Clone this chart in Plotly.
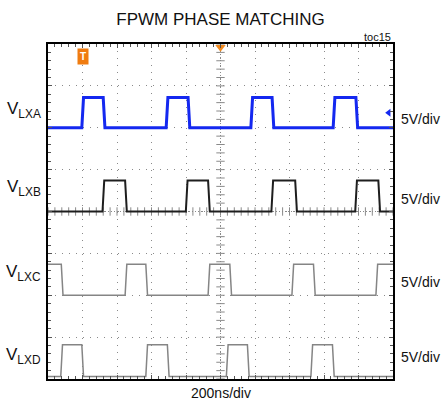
import plotly.graph_objects as go

# ---- data (time in ns, 200 ns/div; amplitude in V, 5 V/div, channels stacked) ----
channels = ["LXA", "LXB", "LXC", "LXD"]
offsets = [30.0, 20.0, 10.0, 0.3]          # channel ground levels (V on the stacked screen)
amplitudes = [3.6, 3.7, 3.7, 3.8]          # pulse height (V)
start_high = [0, 0, 1, 0]
rises = [
    [201, 690, 1181, 1658],
    [321, 804, 1300, 1786],
    [452, 933, 1419, 1906],
    [79, 572, 1039, 1529],
]
falls = [
    [325, 817, 1304, 1790],
    [452, 933, 1438, 1920],
    [82, 572, 1059, 1544],
    [201, 697, 1161, 1654],
]
scale_labels = ["5V/div", "5V/div", "5V/div", "5V/div"]
scale_label_y = [31.1, 21.5, 11.6, 2.6]
name_label_y = [32.1, 22.8, 12.6, 2.7]
t_span = [0, 2000]
v_span = [0, 40]
trigger_time = 203

colors = ["#1428f0", "#1e1e1e", "#858585", "#858585"]
widths = [3.0, 2.0, 1.5, 1.5]


def build_wave(off, amp, r, f, s0, tr=10):
    edges = sorted([(t, 1) for t in r] + [(t, 0) for t in f])
    state = s0
    xs = [t_span[0]]
    ys = [off + amp * state]
    for t, s in edges:
        xs += [t - tr / 2, t + tr / 2]
        ys += [off + amp * state, off + amp * s]
        state = s
    xs.append(t_span[1])
    ys.append(off + amp * state)
    return xs, ys


fig = go.Figure()

# centre crosshair tick marks
ctr_t = (t_span[0] + t_span[1]) / 2
ctr_v = (v_span[0] + v_span[1]) / 2
fig.add_trace(go.Scatter(
    x=[ctr_t] * 41, y=list(range(0, 41)), mode="markers", hoverinfo="skip",
    marker=dict(symbol="line-ew", size=6, line=dict(width=1, color="#8a8a8a")),
    showlegend=False))
fig.add_trace(go.Scatter(
    x=list(range(0, 2001, 40)), y=[ctr_v] * 51, mode="markers", hoverinfo="skip",
    marker=dict(symbol="line-ns", size=6, line=dict(width=1, color="#8a8a8a")),
    showlegend=False))

# waveforms (draw bottom first so blue on top)
for i in reversed(range(4)):
    xs, ys = build_wave(offsets[i], amplitudes[i], rises[i], falls[i], start_high[i])
    fig.add_trace(go.Scatter(x=xs, y=ys, mode="lines", hoverinfo="skip",
                             line=dict(color=colors[i], width=widths[i]),
                             showlegend=False))

# markers: top trigger-position triangle, ground arrow
fig.add_trace(go.Scatter(x=[ctr_t], y=[v_span[1] - 0.4], mode="markers", cliponaxis=False,
                         marker=dict(symbol="triangle-down", size=9, color="#f28a1e"),
                         hoverinfo="skip", showlegend=False))
fig.add_trace(go.Scatter(x=[1975], y=[31.8], mode="markers", cliponaxis=False,
                         marker=dict(symbol="triangle-left", size=7, color="#1428f0"),
                         hoverinfo="skip", showlegend=False))

fig.add_annotation(x=trigger_time, y=38.5, xref="x", yref="y", text="<b>T</b>",
                   showarrow=False, bgcolor="#f07c10", borderpad=2,
                   font=dict(family="Liberation Sans, Arial", size=10, color="white"))

# centre dotted lines
fig.add_shape(type="line", x0=ctr_t, x1=ctr_t, y0=v_span[0], y1=v_span[1], xref="x", yref="y",
              line=dict(color="#8a8a8a", width=1, dash="1px,2px"), layer="below")
fig.add_shape(type="line", x0=t_span[0], x1=t_span[1], y0=ctr_v, y1=ctr_v, xref="x", yref="y",
              line=dict(color="#8a8a8a", width=1, dash="1px,2px"), layer="below")

font_main = "Liberation Sans, Arial, sans-serif"

for i, ch in enumerate(channels):
    fig.add_annotation(x=-0.015, y=name_label_y[i], xref="paper", yref="y",
                       xanchor="right", yanchor="middle", showarrow=False,
                       text=f"V<sub>{ch}</sub>",
                       font=dict(family=font_main, size=17, color="#111"))
    fig.add_annotation(x=1.017, y=scale_label_y[i], xref="paper", yref="y",
                       xanchor="left", yanchor="middle", showarrow=False,
                       text=scale_labels[i],
                       font=dict(family=font_main, size=14, color="#111"))

fig.add_annotation(x=1.0, y=1.0, xref="paper", yref="paper", xanchor="right",
                   yanchor="bottom", showarrow=False, text="toc15", yshift=-1,
                   font=dict(family=font_main, size=11, color="#111"))
fig.add_annotation(x=0.5, y=0, xref="paper", yref="paper", xanchor="center",
                   yanchor="top", showarrow=False, text="200ns/div", yshift=-4,
                   font=dict(family=font_main, size=14, color="#111"))

axis_common = dict(showticklabels=False, showline=True, linecolor="black", linewidth=2,
                   mirror="allticks", ticks="inside", ticklen=4, tickcolor="#555",
                   showgrid=True, gridcolor="#8a8a8a", gridwidth=1, griddash="1px,6px",
                   zeroline=False, fixedrange=True)

fig.update_xaxes(range=t_span, dtick=200, tick0=0,
                 minor=dict(ticks="inside", dtick=40, ticklen=3, tickcolor="#555", showgrid=False),
                 **axis_common)
fig.update_yaxes(range=v_span, dtick=5, tick0=0,
                 minor=dict(ticks="inside", dtick=1, ticklen=3, tickcolor="#555", showgrid=False),
                 **axis_common)

fig.update_layout(
    width=443, height=404,
    margin=dict(l=48, r=50, t=44, b=25),
    paper_bgcolor="white", plot_bgcolor="white",
    title=dict(text="FPWM PHASE MATCHING", x=0.5, xref="paper", xanchor="center",
               y=1 - 19 / 404, yanchor="middle",
               font=dict(family="Liberation Sans Narrow, Liberation Sans, Arial", size=17, color="#111")),
)

fig.write_html("out.html", config={"displayModeBar": False},
               post_script="document.body.style.margin='0';document.body.style.overflow='hidden';")
